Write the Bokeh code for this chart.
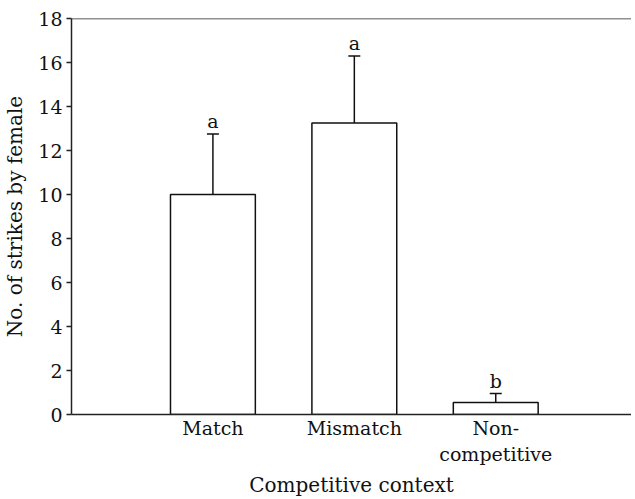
from bokeh.plotting import figure
from bokeh.models import Range1d, FixedTicker, Whisker, TeeHead, ColumnDataSource, Span
from bokeh.embed import file_html
from bokeh.resources import INLINE
from bokeh.core.properties import value

categories = ["Match", "Mismatch", "Non-\ncompetitive"]
positions = [1, 2, 3]
means = [10.0, 13.25, 0.55]
upper = [12.75, 16.3, 0.95]
letters = ["a", "a", "b"]
y_ticks = [0, 2, 4, 6, 8, 10, 12, 14, 16, 18]

FONT = "DejaVu Serif"
FS = "19px"
FS_LAB = "20px"

src = ColumnDataSource(dict(x=positions, top=means, upper=upper, letters=letters))

p = figure(frame_width=560, frame_height=396, output_backend="svg", toolbar_location=None,
           x_range=Range1d(0, 3.96), y_range=Range1d(0, 18),
           min_border_left=71, min_border_top=18, min_border_bottom=0, min_border_right=0)
p.outline_line_color = None
p.grid.visible = False
p.background_fill_color = "white"

p.vbar(x="x", top="top", width=0.6, bottom=0, source=src, fill_color="white",
       line_color="#111111", line_width=1.5)

w = Whisker(base="x", lower="top", upper="upper", source=src,
            line_color="#111111", line_width=1.5,
            upper_head=TeeHead(size=12, line_color="#111111", line_width=1.5),
            lower_head=None)
p.add_layout(w)

p.text(x="x", y="upper", text="letters", source=src, text_align="center",
       text_baseline="alphabetic", y_offset=-13, text_font=value(FONT),
       text_font_size=FS, text_color="#111111")

p.add_layout(Span(location=18, dimension="width", line_color="#222222", line_width=1.5))

p.yaxis.ticker = FixedTicker(ticks=y_ticks)
p.yaxis.minor_tick_line_color = None
p.yaxis.major_tick_out = 5
p.yaxis.major_tick_in = 0
p.yaxis.major_label_standoff = 4
p.yaxis.axis_label = "No. of strikes by female"
p.yaxis.axis_label_standoff = 8

p.xaxis.ticker = FixedTicker(ticks=positions)
p.xaxis.major_label_overrides = {pos: lab for pos, lab in zip(positions, categories)}
p.xaxis.minor_tick_line_color = None
p.xaxis.major_tick_out = 0
p.xaxis.major_tick_in = 0
p.xaxis.major_label_standoff = 2
p.xaxis.axis_label = "Competitive context"
p.xaxis.axis_label_standoff = 5

for ax in (p.xaxis, p.yaxis):
    ax.axis_line_color = "#222222"
    ax.axis_line_width = 1.5
    ax.major_tick_line_width = 1.5
    ax.major_label_text_font = FONT
    ax.major_label_text_font_size = FS
    ax.major_label_text_color = "#111111"
    ax.axis_label_text_font = FONT
    ax.axis_label_text_font_size = FS_LAB
    ax.axis_label_text_font_style = "normal"
    ax.axis_label_text_color = "#111111"
p.xaxis.major_tick_line_color = None
p.yaxis.major_tick_line_color = "#222222"

open("out.html", "w").write(file_html(p, INLINE))
